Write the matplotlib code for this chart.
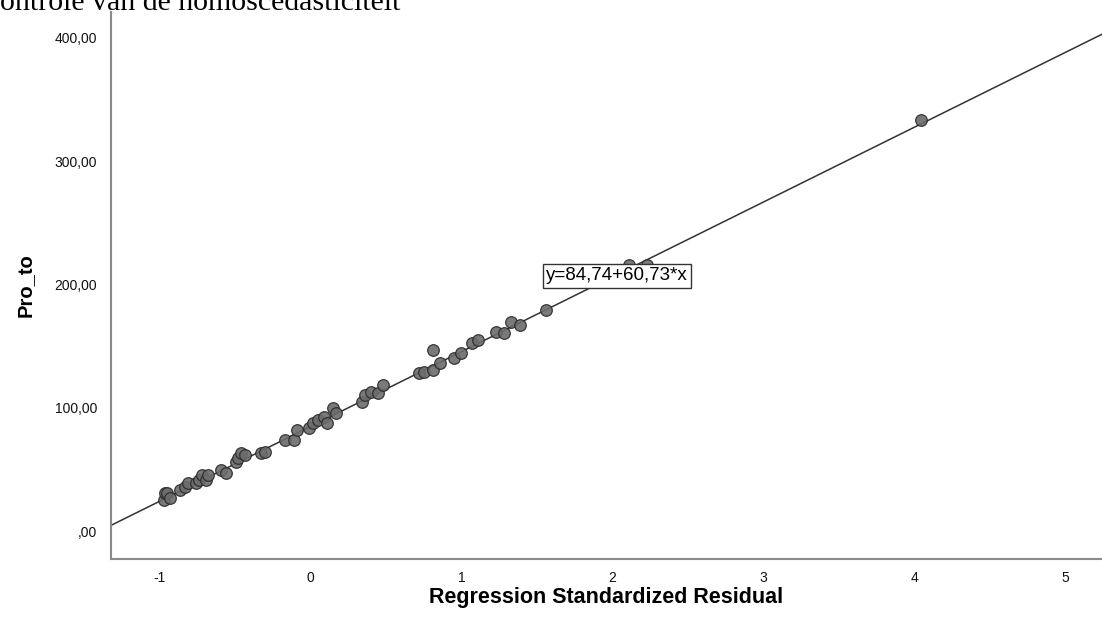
import numpy as np
import matplotlib.pyplot as plt

# standardized residual vs Pro_to
resid = [-0.97, -0.96, -0.95, -0.93, -0.86, -0.83, -0.81, -0.76, -0.74, -0.72,
         -0.69, -0.68, -0.59, -0.56, -0.49, -0.48, -0.46, -0.43, -0.33, -0.30,
         -0.17, -0.11, -0.09, -0.01, 0.02, 0.05, 0.09, 0.11, 0.15, 0.17,
         0.34, 0.36, 0.40, 0.45, 0.48, 0.72, 0.75, 0.81, 0.86, 0.81,
         0.95, 1.00, 1.07, 1.11, 1.23, 1.28, 1.33, 1.39, 1.56, 2.11,
         2.23, 4.04]
pro_to = [25.1, 30.8, 31.0, 26.8, 33.3, 35.7, 38.9, 38.9, 41.4, 45.4,
          41.4, 45.4, 49.5, 47.0, 56.0, 59.2, 63.3, 61.6, 63.3, 64.1,
          73.8, 73.8, 81.9, 83.5, 87.6, 90.0, 92.5, 87.6, 99.8, 95.7,
          104.6, 110.3, 112.7, 111.9, 118.4, 128.1, 129.0, 130.6, 136.3, 146.8,
          140.3, 144.4, 152.5, 154.9, 161.4, 160.6, 169.5, 167.1, 179.2, 216.0,
          216.0, 333.3]

intercept = 84.74
slope = 60.73
x_ticks = [-1, 0, 1, 2, 3, 4, 5]
y_ticks = [0, 100, 200, 300, 400]
y_ticklabels = [',00', '100,00', '200,00', '300,00', '400,00']

fig = plt.figure(figsize=(11.02, 6.35), dpi=100)
ax = fig.add_axes([111 / 1102, 76 / 635, 1 - 111 / 1102, 547 / 635])

ax.axline((0, intercept), slope=slope, color='#333333', lw=1.1, zorder=2)
ax.scatter(resid, pro_to, s=70, facecolor='#6c6c6c', edgecolor='#2a2a2a',
           linewidth=0.9, alpha=0.9, zorder=3)

ax.set_xlim(-1.32, 5.24)
ax.set_ylim(-22.7, 421)
ax.set_xticks(x_ticks)
ax.set_xticklabels([str(t) for t in x_ticks])
ax.set_yticks(y_ticks)
ax.set_yticklabels(y_ticklabels)
ax.tick_params(length=0, labelsize=10, colors='#111111')
ax.tick_params(axis='x', pad=9)
ax.tick_params(axis='y', pad=10)
for lab in ax.get_xticklabels() + ax.get_yticklabels():
    lab.set_family('Liberation Sans')

for s in ['top', 'right']:
    ax.spines[s].set_visible(False)
for s in ['left', 'bottom']:
    ax.spines[s].set_color('#8a8a8a')
    ax.spines[s].set_linewidth(1.5)

ax.set_xlabel('Regression Standardized Residual', fontsize=15.5, fontweight='bold',
              family='Liberation Sans', labelpad=1)
ax.set_ylabel('Pro_to', fontsize=14.5, fontweight='bold',
              family='Liberation Sans', labelpad=14)

ax.text(2.03, 207, 'y=84,74+60,73*x', fontsize=13.5, family='Liberation Sans',
        ha='center', va='center', zorder=4,
        bbox=dict(boxstyle='square,pad=0.18', fc='white', ec='#333333', lw=1))

fig.text(-20 / 1102, 1 - 10 / 635, 'Controle van de homoscedasticiteit', fontsize=21.5,
         family='Liberation Serif', ha='left', va='baseline')

fig.savefig('out.png', dpi=100)
